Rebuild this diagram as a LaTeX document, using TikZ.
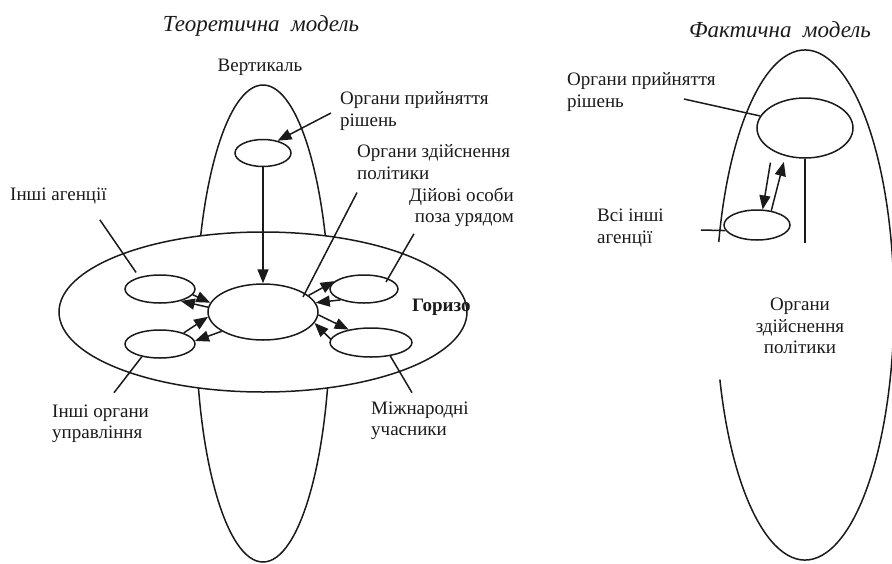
\documentclass[tikz,border=0pt]{standalone}
\usepackage{fontspec}
\setmainfont{Liberation Serif}
\usepackage{xcolor}
\definecolor{cInk}{HTML}{1A1A1A}
\usepackage{tikz}
\usetikzlibrary{arrows.meta,shapes.geometric}
\tikzset{
  node-ell/.style={ellipse,draw=cInk,line width=1.5pt,fill=white,inner sep=0pt},
  node-label/.style={inner sep=2pt,text=cInk,font=\fontsize{19}{21.5}\selectfont},
  node-title/.style={inner sep=2pt,text=cInk,font=\fontsize{23}{26}\selectfont\itshape},
  outline/.style={draw=cInk,line width=1.5pt},
  arrow/.style={-{Triangle[length=14pt,width=11pt]},line width=1.5pt,draw=cInk},
  leader/.style={line width=1.5pt,draw=cInk},
}

\begin{document}
\begin{tikzpicture}[x=1pt,y=-1pt]
  \useasboundingbox (0,0) rectangle (892,563);
  % теоретична модель: вертикаль і горизонталь
  \draw[outline] (263,323.5) ellipse [x radius=67pt,y radius=238.5pt];
  \draw[outline,fill=white] (263,312) ellipse [x radius=204pt,y radius=80pt];

  \node[node-title] (title-l) at (261,26) {Теоретична\ \ модель};
  \node[node-label] (lbl-vert) at (260,67) {Вертикаль};
  \node[node-label,anchor=west] (lbl-hor) at (410,307.5) {\bfseries Горизо};

  \node[node-ell,minimum width=56pt,minimum height=27pt] (tp) at (263,153) {};
  \node[node-ell,minimum width=110pt,minimum height=56pt] (ctr) at (263,312) {};
  \node[node-ell,minimum width=70pt,minimum height=28pt] (lt) at (160,289) {};
  \node[node-ell,minimum width=70pt,minimum height=28pt] (lb) at (160,344) {};
  \node[node-ell,minimum width=68pt,minimum height=28pt] (rt) at (364,289) {};
  \node[node-ell,minimum width=82pt,minimum height=29pt] (rb) at (371,342.5) {};

  \node[node-label,align=left,anchor=west] (lbl-tp) at (338,111) {Органи прийняття\\рішень};
  \node[node-label,align=left,anchor=west] (lbl-ctr) at (355,162) {Органи здійснення\\політики};
  \node[node-label,anchor=west] (lbl-lt) at (8,196.5) {Інші агенції};
  \node[node-label,align=right,anchor=east] (lbl-rt) at (516,207) {Дійові особи\\поза урядом};
  \node[node-label,align=left,anchor=west] (lbl-lb) at (50,424) {Інші органи\\управління};
  \node[node-label,align=left,anchor=west] (lbl-rb) at (369,421) {Міжнародні\\учасники};

  \draw[arrow] (tp) -- (ctr);
  \draw[arrow] ([shift={(-7,2)}]lbl-tp.west) -- (tp.40);
  \draw[leader] ([shift={(2,11)}]lbl-ctr.south west) -- ([shift={(40,-15)}]ctr.center);
  \draw[leader,shorten >=5.5pt] ([shift={(-9,13)}]lbl-lt.south east) -- (lt.150);
  \draw[leader] ([shift={(7,5)}]lbl-rt.south west) -- ([shift={(22,-7)}]rt.center);
  \draw[leader] ([shift={(64,-10)}]lbl-lb.north west) -- (lb.-145);
  \draw[leader] ([shift={(43,-7)}]lbl-rb.north west) -- (rb.-35);

  \draw[arrow] (ctr.175) -- (lt.-30);
  \draw[arrow] (lt.-10) -- (ctr.170);
  \draw[arrow] (lb.25) -- (ctr.185);
  \draw[arrow] (ctr.205) -- (lb.5);
  \draw[arrow] (ctr.20) -- (rt.165);
  \draw[arrow] (rt.205) -- (ctr.10);
  \draw[arrow] (ctr.-3) -- (rb.150);
  \draw[arrow] (rb.175) -- (ctr.-12);

  % фактична модель
  \draw[outline] ([shift={(197:89pt and 255pt)}]805,305)
    arc[start angle=197,end angle=525.7,x radius=89pt,y radius=255pt];
  \node[node-title] (title-r) at (780,30) {Фактична\ \ модель};

  \node[node-ell,minimum width=96pt,minimum height=60pt] (dec) at (805,128) {};
  \node[node-ell,minimum width=66pt,minimum height=30pt] (oth) at (757,225) {};
  \coordinate (dec-stem) at (805,243);

  \node[node-label,align=left,anchor=west] (lbl-dec) at (565,92) {Органи прийняття\\рішень};
  \node[node-label,align=left,anchor=west] (lbl-oth) at (595,228) {Всі інші\\агенції};
  \node[node-label,align=center] (lbl-impl) at (800,326) {Органи\\здійснення\\політики};

  \draw[leader] (dec.south) -- (dec-stem);
  \draw[arrow,shorten <=12pt] (dec.-145) -- (oth.70);
  \draw[arrow,shorten >=6pt] (oth.45) -- (dec.-125);
  \draw[leader] ([shift={(-34,7)}]lbl-dec.east) -- (dec.165);
  \draw[leader] ([shift={(35,2)}]lbl-oth.east) -- (oth.190);
\end{tikzpicture}
\end{document}
